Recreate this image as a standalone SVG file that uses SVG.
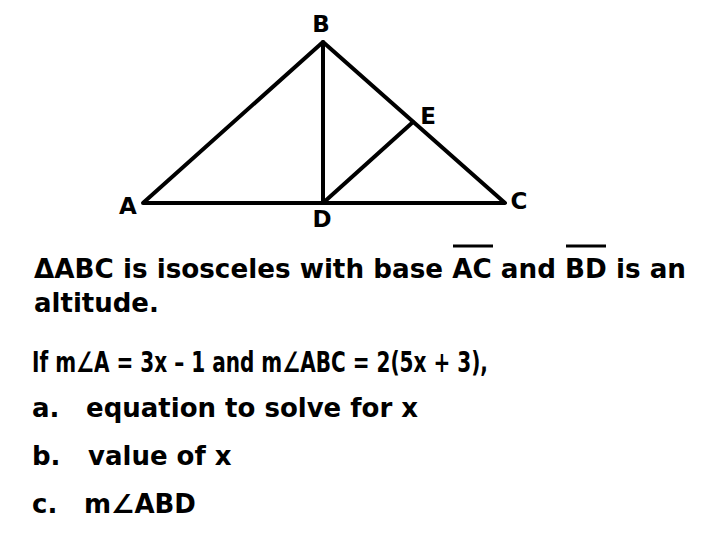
<svg xmlns="http://www.w3.org/2000/svg" width="720" height="540" viewBox="0 0 720 540">
<style>
.ln{stroke:#000;stroke-width:4;fill:none;stroke-linecap:round;stroke-linejoin:round}
.lb{font-family:"DejaVu Sans","Verdana",sans-serif;font-weight:bold;font-size:23px;fill:#000}
.tx{font-family:"DejaVu Sans","Verdana",sans-serif;font-weight:bold;font-size:26px;fill:#000}
</style>
<rect width="720" height="540" fill="#fff"/>
<g id="connectors">
<polygon class="ln" points="143,203 323,42 505,203"/>
<line class="ln" x1="323" y1="42" x2="323" y2="203"/>
<line class="ln" x1="323" y1="203" x2="413" y2="122"/>
</g>
<g id="node-B"><text class="lb" x="321" y="32" text-anchor="middle">B</text></g>
<g id="node-A"><text class="lb" x="128" y="214" text-anchor="middle">A</text></g>
<g id="node-D"><text class="lb" x="322" y="227" text-anchor="middle">D</text></g>
<g id="node-C"><text class="lb" x="519" y="209" text-anchor="middle">C</text></g>
<g id="node-E"><text class="lb" x="428" y="124" text-anchor="middle">E</text></g>
<g id="text">
<text class="tx" x="34" y="278" textLength="652" lengthAdjust="spacingAndGlyphs">ΔABC is isosceles with base AC and BD is an</text>
<line x1="453" y1="246" x2="493" y2="246" stroke="#000" stroke-width="3"/>
<line x1="566" y1="246" x2="606" y2="246" stroke="#000" stroke-width="3"/>
<text class="tx" x="34" y="312">altitude.</text>
<text class="tx" x="32" y="372" style="font-size:28px" textLength="456" lengthAdjust="spacingAndGlyphs">If m∠A = 3x – 1 and m∠ABC = 2(5x + 3),</text>
<text class="tx" x="32" y="417">a.</text>
<text class="tx" x="86" y="417">equation to solve for x</text>
<text class="tx" x="32" y="465">b.</text>
<text class="tx" x="88" y="465">value of x</text>
<text class="tx" x="32" y="513">c.</text>
<text class="tx" x="84" y="513">m∠ABD</text>
</g>
</svg>
